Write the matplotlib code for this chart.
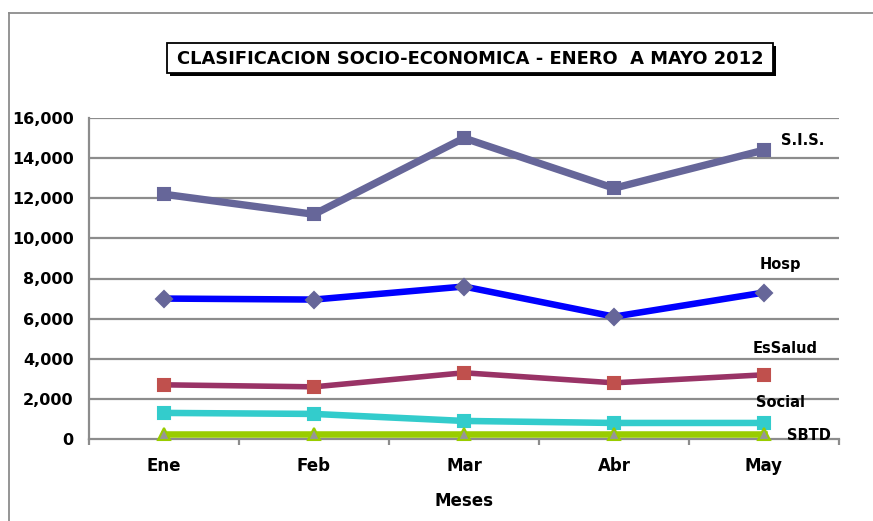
import matplotlib
matplotlib.use("Agg")
import matplotlib.pyplot as plt
from matplotlib.patches import Rectangle
from matplotlib.lines import Line2D
import numpy as np

months = ["Ene", "Feb", "Mar", "Abr", "May"]
sis = [12200, 11200, 15000, 12500, 14400]
hosp = [7000, 6950, 7600, 6100, 7300]
essalud = [2700, 2600, 3300, 2800, 3200]
social = [1300, 1250, 900, 800, 800]
sbtd = [250, 250, 250, 250, 250]
series_names = ["S.I.S.", "Hosp", "EsSalud", "Social", "SBTD"]
yticks = [0, 2000, 4000, 6000, 8000, 10000, 12000, 14000, 16000]
title = "CLASIFICACION SOCIO-ECONOMICA - ENERO  A MAYO 2012"

W, H = 873, 521
fig = plt.figure(figsize=(W / 100, H / 100), dpi=100)
plt.rcParams['font.family'] = ['DejaVu Sans']

def fx(x):
    return x / W

def fy(y):
    return 1 - y / H

ax = fig.add_axes([fx(89), fy(439), fx(839) - fx(89), fy(118) - fy(439)])
x = np.arange(len(months))

grid_c = "#8c8c8c"
for v in yticks[1:]:
    ax.axhline(v, color=grid_c, lw=1.6, zorder=1)

styles = [
    dict(data=sis, color="#666699", lw=5.3, marker="s", ms=9, mfc="#666699", mec="#666699"),
    dict(data=hosp, color="#0000ff", lw=4.7, marker="D", ms=8, mfc="#666699", mec="#666699"),
    dict(data=essalud, color="#993366", lw=4.0, marker="s", ms=8, mfc="#c0504d", mec="#c0504d"),
    dict(data=social, color="#33cccc", lw=4.7, marker="s", ms=9, mfc="#33cccc", mec="#33cccc"),
    dict(data=sbtd, color="#99cc00", lw=4.7, marker="^", ms=9, mfc="#969696", mec="#99cc00"),
]
for st in styles:
    ax.plot(x, st["data"], color=st["color"], lw=st["lw"], marker=st["marker"],
            ms=st["ms"], mfc=st["mfc"], mec=st["mec"], mew=1.5, zorder=3,
            solid_joinstyle="miter", clip_on=False)

ax.set_xlim(-0.5, len(months) - 0.5)
ax.set_ylim(0, 16000)
ax.set_yticks(yticks)
ax.set_yticklabels([f"{v:,}" for v in yticks], fontsize=11.5, fontweight="bold")
ax.tick_params(axis="y", length=0, pad=11)
ax.set_xticks(x)
ax.set_xticklabels(months, fontsize=12, fontweight="bold")
ax.tick_params(axis="x", which="major", length=0, pad=13)
ax.set_xticks(np.arange(len(months) + 1) - 0.5, minor=True)
ax.tick_params(axis="x", which="minor", length=4.5, width=1.6, color=grid_c, direction="out")

for s in ["top", "right"]:
    ax.spines[s].set_visible(False)
for s in ["left", "bottom"]:
    ax.spines[s].set_color(grid_c)
    ax.spines[s].set_linewidth(1.6)
ax.set_facecolor("none")

ax.set_xlabel("Meses", fontsize=12, fontweight="bold", labelpad=12)

# series labels near last points
offsets = [(28, 7), (12, 20), (15, 19), (12, 15), (32, -1)]
for name, st, off in zip(series_names, styles, offsets):
    ax.annotate(name, xy=(x[-1], st["data"][-1]), xytext=off, textcoords="offset points",
                fontsize=10.5, fontweight="bold", ha="center", va="center",
                annotation_clip=False)

# outer border (left and top)
fig.add_artist(Line2D([fx(9), fx(9)], [fy(13), 0], color="#8c8c8c", lw=1.3))
fig.add_artist(Line2D([fx(9), 1], [fy(13), fy(13)], color="#8c8c8c", lw=1.3))

# title box with shadow
fig.add_artist(Rectangle((fx(170), fy(76)), fx(773) - fx(167), fy(43) - fy(73),
                         facecolor="black", edgecolor="black", lw=0))
fig.add_artist(Rectangle((fx(167), fy(73)), fx(773) - fx(167), fy(43) - fy(73),
                         facecolor="white", edgecolor="black", lw=1.3))
fig.text(fx(470), fy(58.5), title, fontsize=12.9, fontweight="bold", ha="center", va="center")

fig.savefig("out.png", dpi=100)
